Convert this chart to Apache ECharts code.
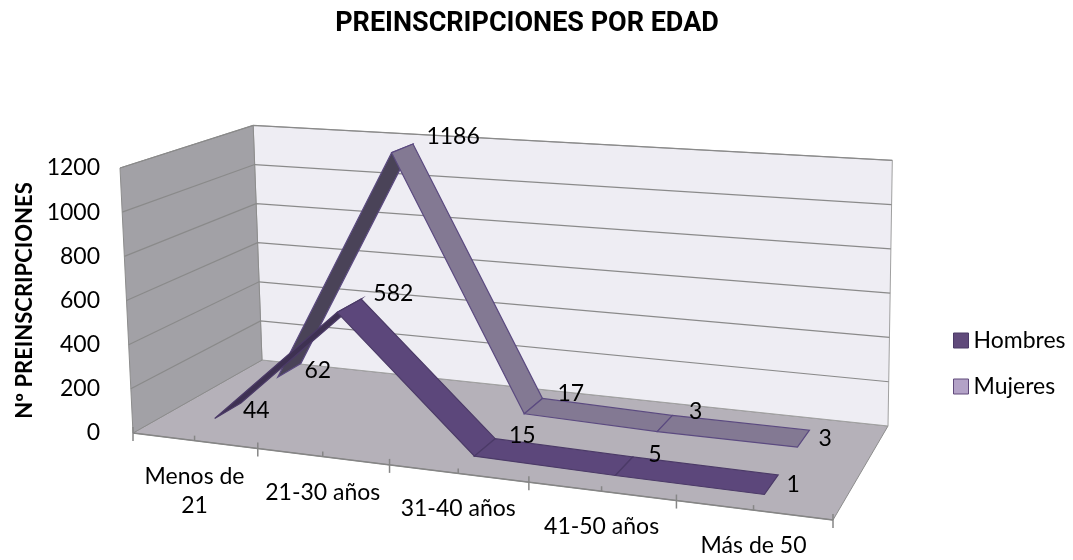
<!DOCTYPE html>
<html>
<head>
<meta charset="utf-8">
<script src="https://cdn.jsdelivr.net/npm/echarts@6/dist/echarts.min.js"></script>
<style>html,body{margin:0;padding:0;background:#fff}#main{width:1073px;height:560px}</style>
</head>
<body>
<div id="main"></div>
<script>
var categories = ['Menos de 21', '21-30 años', '31-40 años', '41-50 años', 'Más de 50'];
var hombres = [44, 582, 15, 5, 1];
var mujeres = [62, 1186, 17, 3, 3];
var yTicks = [0, 200, 400, 600, 800, 1000, 1200];

var myChart = echarts.init(document.getElementById('main'));

// floor of the 3d box: front-left, front-right, back-right, back-left
var FL = [133, 433], FR = [833, 520], BR = [888, 426], BL = [262, 360];
var VP = [700, 12000]; // where the vertical edges meet
var FONT = 'Lato';
var FS = 23;

// unit square -> floor quad (perspective)
var H = (function () {
  var x0 = FL[0], y0 = FL[1], x1 = FR[0], y1 = FR[1], x2 = BR[0], y2 = BR[1], x3 = BL[0], y3 = BL[1];
  var dx1 = x1 - x2, dy1 = y1 - y2, dx2 = x3 - x2, dy2 = y3 - y2;
  var dx3 = x0 - x1 + x2 - x3, dy3 = y0 - y1 + y2 - y3;
  var den = dx1 * dy2 - dy1 * dx2;
  var g = (dx3 * dy2 - dy3 * dx2) / den;
  var h = (dx1 * dy3 - dy1 * dx3) / den;
  return {a: x1 - x0 + g * x1, b: x3 - x0 + h * x3, c: x0,
          d: y1 - y0 + g * y1, e: y3 - y0 + h * y3, f: y0, g: g, h: h};
})();

function project(u, d, hPx) {
  var w = H.g * u + H.h * d + 1;
  var fx = (H.a * u + H.b * d + H.c) / w;
  var fy = (H.d * u + H.e * d + H.f) / w;
  var ht = hPx / w;
  return [fx + (fx - VP[0]) * ht / (VP[1] - fy), fy - ht];
}

// grid coords -> (u along floor, height in px at the front)
function uh(api, cs, i, v) {
  var p = api.coord([i, v]);
  return [(p[0] - cs.x) / cs.width, cs.y + cs.height - p[1]];
}

var rows = [0.25, 0.75]; // depth of Hombres, Mujeres
var half = 0.1;

function renderBox(params, api) {
  var cs = params.coordSys;
  var top = uh(api, cs, 0, yTicks[yTicks.length - 1])[1];
  var P = project;
  var n = categories.length;
  var ch = [
    {type: 'polygon', shape: {points: [P(0, 0, 0), P(1, 0, 0), P(1, 1, 0), P(0, 1, 0)]},
     style: {fill: '#b5b1b9', stroke: '#8c8c8c', lineWidth: 1}},
    {type: 'polygon', shape: {points: [P(0, 1, 0), P(1, 1, 0), P(1, 1, top), P(0, 1, top)]},
     style: {fill: '#eeedf3', stroke: '#a0a0a0', lineWidth: 1}},
    {type: 'polygon', shape: {points: [P(0, 0, 0), P(0, 1, 0), P(0, 1, top), P(0, 0, top)]},
     style: {fill: '#a2a1a6', stroke: '#8c8c8c', lineWidth: 1}},
    {type: 'line', shape: {x1: P(0, 0, 0)[0], y1: P(0, 0, 0)[1], x2: P(1, 0, 0)[0], y2: P(1, 0, 0)[1]},
     style: {stroke: '#868686', lineWidth: 1.5}}
  ];
  for (var k = 0; k <= n; k++) {
    var q = P(k / n, 0, 0);
    ch.push({type: 'line', shape: {x1: q[0], y1: q[1] - 6, x2: q[0], y2: q[1] + 8}, style: {stroke: '#868686', lineWidth: 1.5}});
    if (k < n) {
      var m = P((k + 0.5) / n, 0, 0);
      ch.push({type: 'line', shape: {x1: m[0], y1: m[1] - 5, x2: m[0], y2: m[1]}, style: {stroke: '#868686', lineWidth: 1.5}});
    }
  }
  return {type: 'group', children: ch};
}

function renderGridLine(params, api) {
  var cs = params.coordSys;
  var h = uh(api, cs, 0, api.value(1))[1];
  return {type: 'polyline', shape: {points: [project(0, 0, h), project(0, 1, h), project(1, 1, h)]},
          style: {stroke: '#8a8a8a', lineWidth: 1.2, fill: null}};
}

function ribbon(depth, base, dark, edge) {
  return function (params, api) {
    var cs = params.coordSys;
    var i = api.value(0);
    var a = uh(api, cs, i, api.value(1));
    var b = uh(api, cs, i + 1, api.value(2));
    var pts = [project(a[0], depth - half, a[1]), project(b[0], depth - half, b[1]),
               project(b[0], depth + half, b[1]), project(a[0], depth + half, a[1])];
    return {type: 'polygon', shape: {points: pts},
            style: {fill: api.value(2) > api.value(1) ? dark : base, stroke: edge, lineWidth: 1.2}};
  };
}

function renderValueLabel(params, api) {
  var cs = params.coordSys;
  var i = api.value(0), v = api.value(1);
  var p = uh(api, cs, i, v);
  var q = project(p[0], rows[api.value(2)], p[1]);
  var mid = i > 0 && i < categories.length - 1;
  return {type: 'text', style: {text: String(v), x: q[0] + (mid ? 24 : 15), y: q[1] - (mid ? 12 : 0),
          align: 'left', verticalAlign: 'middle', fontFamily: FONT, fontSize: FS, fill: '#000'}};
}

function wrapLabel(s) {
  if (s.length <= 10) return s;
  var k = s.lastIndexOf(' ');
  return s.slice(0, k) + '\n' + s.slice(k + 1);
}

function renderCatLabel(params, api) {
  var cs = params.coordSys;
  var i = api.value(0);
  var p = uh(api, cs, i, 0);
  var q = project(p[0], 0, 0);
  return {type: 'text', style: {text: wrapLabel(categories[i]), x: q[0], y: q[1] + 21, align: 'center', verticalAlign: 'top',
          lineHeight: 29, fontFamily: FONT, fontSize: FS, fill: '#000'}};
}

function pairs(arr) {
  return arr.slice(0, -1).map(function (v, i) { return [i, v, arr[i + 1]]; });
}

option = {
  animation: false,
  title: {
    text: 'PREINSCRIPCIONES POR EDAD',
    left: 522, top: 6, textAlign: 'center',
    textStyle: {fontFamily: 'Roboto', fontWeight: 'bold', fontSize: 27, color: '#000'}
  },
  legend: {
    orient: 'vertical', left: 948, top: 324, itemGap: 23, itemWidth: 15, itemHeight: 15, icon: 'rect',
    textStyle: {fontFamily: FONT, fontSize: FS, color: '#000'},
    data: [
      {name: 'Hombres', itemStyle: {color: '#604a7b', borderColor: '#4b3a67', borderWidth: 1}},
      {name: 'Mujeres', itemStyle: {color: '#b3a2c7', borderColor: '#604a7b', borderWidth: 1}}
    ]
  },
  grid: {left: 125, top: 168, height: 265, width: 700},
  xAxis: {type: 'category', data: categories, show: false},
  yAxis: {
    type: 'value', min: 0, max: 1200, interval: 200,
    name: 'Nº PREINSCRIPCIONES', nameLocation: 'middle', nameGap: 89, nameRotate: 90,
    nameTextStyle: {fontFamily: FONT, fontWeight: 'bold', fontSize: 22, color: '#000'},
    axisLine: {show: false}, axisTick: {show: false}, splitLine: {show: false},
    axisLabel: {margin: 25, fontFamily: FONT, fontSize: FS, color: '#000',
                formatter: function (v) { return String(v); }}
  },
  series: [
    {type: 'custom', z: 1, clip: false, silent: true, data: [[0, 0]], renderItem: renderBox},
    {type: 'custom', z: 2, clip: false, silent: true,
     data: yTicks.slice(1).map(function (v) { return [0, v]; }), renderItem: renderGridLine},
    {type: 'custom', name: 'Mujeres', z: 3, clip: false, itemStyle: {color: '#b3a2c7'},
     data: pairs(mujeres), renderItem: ribbon(rows[1], '#837993', '#4a4358', '#5b4a80')},
    {type: 'custom', name: 'Hombres', z: 4, clip: false, itemStyle: {color: '#604a7b'},
     data: pairs(hombres), renderItem: ribbon(rows[0], '#5c477b', '#3e3152', '#4b3a67')},
    {type: 'custom', z: 5, clip: false, silent: true,
     data: hombres.map(function (v, i) { return [i, v, 0]; }).concat(mujeres.map(function (v, i) { return [i, v, 1]; })),
     renderItem: renderValueLabel},
    {type: 'custom', z: 5, clip: false, silent: true,
     data: categories.map(function (c, i) { return [i, 0]; }), renderItem: renderCatLabel}
  ]
};

myChart.setOption(option);
</script>
</body>
</html>
